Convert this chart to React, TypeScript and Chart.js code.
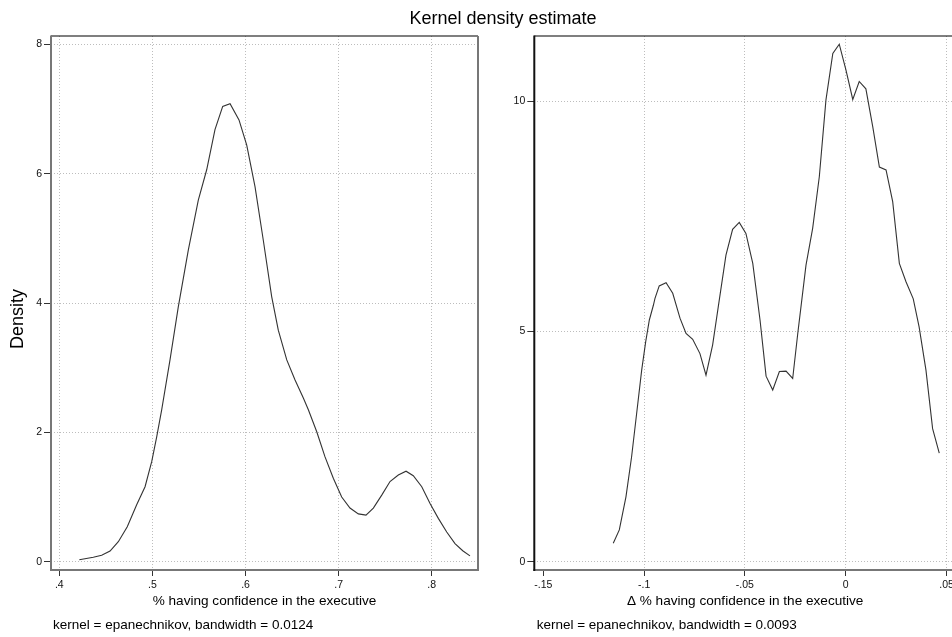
import React, { useEffect, useRef } from "react";
import { Chart, registerables } from "chart.js";

Chart.register(...registerables);

// ---- Data ----
const leftX = [0.4215, 0.4365, 0.4455, 0.4545, 0.4634, 0.473, 0.4831, 0.4921, 0.4993, 0.5046, 0.51, 0.5189, 0.5278, 0.5386, 0.5493, 0.5583, 0.5672, 0.5755, 0.5834, 0.593, 0.6013, 0.6102, 0.6191, 0.6281, 0.6352, 0.6443, 0.6532, 0.6621, 0.6675, 0.6765, 0.6854, 0.6943, 0.7033, 0.7122, 0.7212, 0.7294, 0.7373, 0.7463, 0.7552, 0.7641, 0.7724, 0.7802, 0.7893, 0.7982, 0.8071, 0.8161, 0.825, 0.8333, 0.8411];
const leftY = [0.03, 0.07, 0.1, 0.165, 0.31, 0.54, 0.88, 1.16, 1.55, 1.93, 2.35, 3.12, 3.94, 4.82, 5.59, 6.06, 6.68, 7.04, 7.08, 6.83, 6.44, 5.8, 4.97, 4.1, 3.58, 3.12, 2.81, 2.53, 2.35, 2.01, 1.62, 1.29, 1.0, 0.83, 0.74, 0.72, 0.83, 1.03, 1.24, 1.34, 1.4, 1.33, 1.16, 0.9, 0.67, 0.46, 0.28, 0.17, 0.09];

const rightX = [-0.1153, -0.1123, -0.109, -0.1062, -0.1037, -0.1012, -0.0992, -0.0974, -0.0954, -0.0946, -0.0925, -0.0891, -0.0858, -0.0822, -0.0792, -0.0759, -0.0723, -0.0693, -0.066, -0.0632, -0.0594, -0.0561, -0.0528, -0.0495, -0.0461, -0.0425, -0.0395, -0.0362, -0.0329, -0.0296, -0.0263, -0.0238, -0.0197, -0.0164, -0.0131, -0.0098, -0.0064, -0.0032, 0.0001, 0.0035, 0.0067, 0.01, 0.0134, 0.0167, 0.02, 0.0233, 0.0266, 0.0299, 0.0335, 0.0364, 0.0398, 0.0431, 0.0464];
const rightY = [0.4, 0.69, 1.41, 2.28, 3.22, 4.16, 4.78, 5.25, 5.57, 5.72, 5.99, 6.06, 5.83, 5.29, 4.96, 4.83, 4.52, 4.05, 4.71, 5.54, 6.66, 7.22, 7.37, 7.13, 6.48, 5.25, 4.03, 3.73, 4.13, 4.14, 3.98, 4.95, 6.44, 7.24, 8.36, 10.03, 11.04, 11.24, 10.68, 10.04, 10.43, 10.27, 9.45, 8.57, 8.51, 7.82, 6.48, 6.08, 5.71, 5.1, 4.16, 2.89, 2.36];

const leftXTicks = [0.4, 0.5, 0.6, 0.7, 0.8];
const leftXTickLabels = [".4", ".5", ".6", ".7", ".8"];
const leftYTicks = [0, 2, 4, 6, 8];
const leftYTickLabels = ["0", "2", "4", "6", "8"];

const rightXTicks = [-0.15, -0.1, -0.05, 0, 0.05];
const rightXTickLabels = ["-.15", "-.1", "-.05", "0", ".05"];
const rightYTicks = [0, 5, 10];
const rightYTickLabels = ["0", "5", "10"];

const chartTitle = "Kernel density estimate";
const leftXTitle = "% having confidence in the executive";
const rightXTitle = "\u0394 % having confidence in the executive";
const yTitle = "Density";
const leftNote = "kernel = epanechnikov, bandwidth = 0.0124";
const rightNote = "kernel = epanechnikov, bandwidth = 0.0093";

const FONT = "'Liberation Sans', Arial, Helvetica, sans-serif";

type PanelProps = {
  xs: number[];
  ys: number[];
  xTicks: number[];
  xLabels: string[];
  yTicks: number[];
  yLabels: string[];
  xMin: number;
  xMax: number;
  yMin: number;
  yMax: number;
  xTitle: string;
  yAxisWidth: number;
  padRight: number;
  left: number;
  width: number;
  leftBorderColor: string;
  hideXGrid?: number[];
};

function Panel(p: PanelProps) {
  const ref = useRef<HTMLCanvasElement | null>(null);
  useEffect(() => {
    if (!ref.current) return;
    const framePlugin = {
      id: "frame",
      afterDraw(chart: any) {
        const { ctx, chartArea } = chart;
        const { left, right, top, bottom } = chartArea;
        const line = (x1: number, y1: number, x2: number, y2: number, c: string, w: number) => {
          ctx.save();
          ctx.strokeStyle = c;
          ctx.lineWidth = w;
          ctx.setLineDash([]);
          ctx.beginPath();
          ctx.moveTo(x1, y1);
          ctx.lineTo(x2, y2);
          ctx.stroke();
          ctx.restore();
        };
        line(left, top, right, top, "#000", 1.2);
        line(right, top, right, bottom, "#777", 2);
        line(left - 1, bottom, right + 1, bottom, "#777", 2);
        line(left, top - 0.6, left, bottom + 1, p.leftBorderColor, 2);
      },
    };
    const hidden = p.hideXGrid || [];
    const chart = new Chart(ref.current, {
      type: "line",
      data: {
        datasets: [
          {
            data: p.xs.map((x, i) => ({ x, y: p.ys[i] })),
            borderColor: "#333",
            borderWidth: 1.1,
            pointRadius: 0,
            tension: 0,
            fill: false,
          },
        ],
      },
      options: {
        responsive: false,
        animation: false,
        events: [],
        layout: { padding: { top: 36, right: p.padRight, left: 0, bottom: 0 } },
        plugins: {
          legend: { display: false },
          tooltip: { enabled: false },
          title: { display: false },
        },
        scales: {
          x: {
            type: "linear",
            min: p.xMin,
            max: p.xMax,
            afterBuildTicks: (s: any) => {
              s.ticks = p.xTicks.map((v) => ({ value: v }));
            },
            afterFit: (s: any) => {
              s.height = 67;
            },
            ticks: {
              callback: (_v: any, i: number) => p.xLabels[i],
              font: { family: FONT, size: 10.5 },
              color: "#111",
              padding: 3,
              maxRotation: 0,
              autoSkip: false,
            },
            grid: {
              color: (ctx: any) =>
                ctx.tick && hidden.some((h) => Math.abs(h - ctx.tick.value) < 1e-9) ? "rgba(0,0,0,0)" : "#bdbdbd",
              lineWidth: 1,
              tickLength: 6,
              tickColor: "#333",
              tickWidth: 1,
              tickBorderDash: [],
              drawTicks: true,
            },
            border: { display: false, dash: [1, 2] },
            title: {
              display: true,
              text: p.xTitle,
              font: { family: FONT, size: 13.6 },
              color: "#000",
              padding: { top: 0, bottom: 28 },
            },
          },
          y: {
            type: "linear",
            min: p.yMin,
            max: p.yMax,
            afterBuildTicks: (s: any) => {
              s.ticks = p.yTicks.map((v) => ({ value: v }));
            },
            afterFit: (s: any) => {
              s.width = p.yAxisWidth;
            },
            ticks: {
              callback: (_v: any, i: number) => p.yLabels[i],
              font: { family: FONT, size: 10.5 },
              color: "#111",
              padding: 2,
              autoSkip: false,
            },
            grid: {
              color: "#bdbdbd",
              lineWidth: 1,
              tickLength: 7,
              tickColor: "#333",
              tickWidth: 1,
              tickBorderDash: [],
              drawTicks: true,
            },
            border: { display: false, dash: [1, 2] },
          },
        },
      } as any,
      plugins: [framePlugin],
    });
    return () => chart.destroy();
  }, []);
  return (
    <canvas
      ref={ref}
      width={p.width}
      height={637}
      style={{ position: "absolute", left: p.left, top: 0, width: p.width, height: 637 }}
    />
  );
}

export default function App() {
  const textBase: React.CSSProperties = {
    position: "absolute",
    fontFamily: FONT,
    color: "#000",
    whiteSpace: "nowrap",
  };
  return (
    <div
      style={{
        position: "absolute",
        left: 0,
        top: 0,
        width: 952,
        height: 637,
        overflow: "hidden",
        background: "#fff",
      }}
    >
      <Panel
        xs={leftX}
        ys={leftY}
        xTicks={leftXTicks}
        xLabels={leftXTickLabels}
        yTicks={leftYTicks}
        yLabels={leftYTickLabels}
        xMin={0.39108}
        xMax={0.8497}
        yMin={-0.128}
        yMax={8.128}
        xTitle={leftXTitle}
        yAxisWidth={51}
        padRight={2}
        left={0}
        width={480}
        leftBorderColor="#777"
      />
      <Panel
        xs={rightX}
        ys={rightY}
        xTicks={rightXTicks}
        xLabels={rightXTickLabels}
        yTicks={rightYTicks}
        yLabels={rightYTickLabels}
        xMin={-0.15446}
        xMax={0.0547}
        yMin={-0.18}
        yMax={11.418}
        xTitle={rightXTitle}
        yAxisWidth={54.3}
        padRight={4}
        left={480}
        width={480}
        leftBorderColor="#111"
        hideXGrid={[-0.15]}
      />
      <div
        style={{
          ...textBase,
          left: 0,
          top: 6.7,
          width: 1006,
          textAlign: "center",
          fontSize: 18,
          lineHeight: "22px",
        }}
      >
        {chartTitle}
      </div>
      <div
        style={{
          ...textBase,
          left: -43,
          top: 309,
          width: 120,
          height: 20,
          textAlign: "center",
          fontSize: 18,
          lineHeight: "20px",
          transform: "rotate(-90deg)",
          transformOrigin: "50% 50%",
        }}
      >
        {yTitle}
      </div>
      <div style={{ ...textBase, left: 53, top: 616.6, fontSize: 13.5, lineHeight: "16px" }}>{leftNote}</div>
      <div style={{ ...textBase, left: 536.7, top: 616.6, fontSize: 13.5, lineHeight: "16px" }}>{rightNote}</div>
    </div>
  );
}
